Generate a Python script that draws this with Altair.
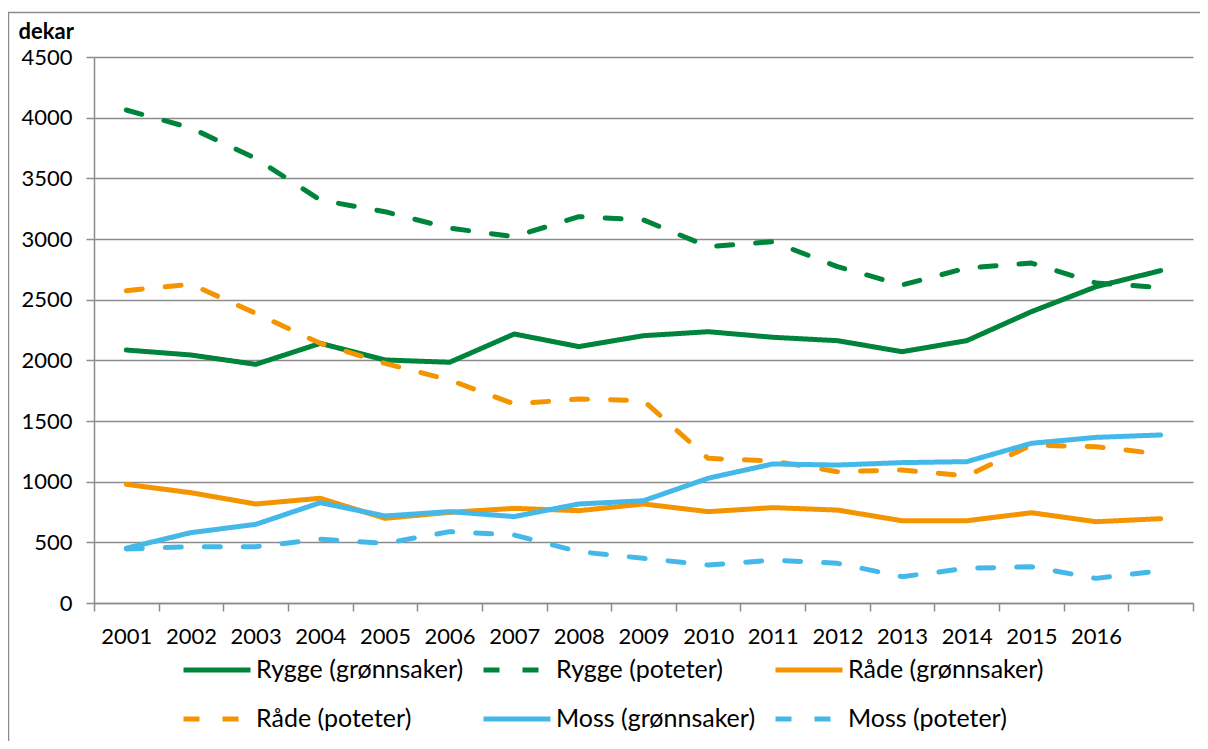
import altair as alt
import pandas as pd

years = [str(y) for y in range(2001, 2018)]
series = ["Rygge (grønnsaker)", "Rygge (poteter)", "Råde (grønnsaker)",
          "Råde (poteter)", "Moss (grønnsaker)", "Moss (poteter)"]

rygge_g = [2085, 2044, 1967, 2140, 2003, 1984, 2217, 2113, 2203, 2236, 2190, 2162, 2071, 2162, 2401, 2607, 2739]
rygge_p = [4063, 3915, 3665, 3321, 3225, 3090, 3019, 3184, 3157, 2937, 2978, 2772, 2621, 2761, 2802, 2637, 2600]
rade_g = [978, 909, 816, 863, 698, 747, 780, 761, 816, 753, 786, 766, 678, 678, 744, 670, 695]
rade_p = [2574, 2627, 2388, 2140, 1975, 1838, 1640, 1681, 1668, 1192, 1170, 1082, 1096, 1047, 1302, 1288, 1228]
moss_g = [451, 580, 648, 827, 717, 753, 712, 816, 843, 1028, 1146, 1137, 1157, 1165, 1316, 1365, 1385]
moss_p = [445, 464, 464, 525, 492, 588, 560, 423, 368, 313, 354, 327, 217, 286, 299, 203, 266]

color_of = {"Rygge (grønnsaker)": "#00833A", "Rygge (poteter)": "#00833A",
            "Råde (grønnsaker)": "#F39400", "Råde (poteter)": "#F39400",
            "Moss (grønnsaker)": "#45B8EA", "Moss (poteter)": "#45B8EA"}
dash_of = {"Rygge (grønnsaker)": [1, 0], "Rygge (poteter)": [16, 23],
           "Råde (grønnsaker)": [1, 0], "Råde (poteter)": [16, 23],
           "Moss (grønnsaker)": [1, 0], "Moss (poteter)": [16, 23]}

# legend fills column by column: order so rows read like the reference
legend_order = [series[0], series[3], series[1], series[4], series[2], series[5]]
colors = [color_of[s] for s in legend_order]
dashes = [dash_of[s] for s in legend_order]

rows = []
for name, vals in zip(series, [rygge_g, rygge_p, rade_g, rade_p, moss_g, moss_p]):
    for yr, v in zip(years, vals):
        rows.append({"year": yr, "value": v, "series": name})
df = pd.DataFrame(rows)

FONT = "Lato"
GRAY = "#8C8C8C"

legend = alt.Legend(title=None, orient="none", legendX=87, legendY=577, columns=3,
                    symbolType="stroke", symbolSize=4489, symbolStrokeWidth=5,
                    labelFont=FONT, labelFontSize=25, labelColor="#000000",
                    labelLimit=400, labelOffset=3, columnPadding=9, rowPadding=-18)

lines = alt.Chart(df).mark_line(strokeWidth=5, strokeCap="round", strokeJoin="round").encode(
    x=alt.X("year:O", sort=years, bandPosition=0.5,
            scale=alt.Scale(type="band", paddingInner=0, paddingOuter=0),
            axis=alt.Axis(title=None, tickBand="extent", labelAngle=0,
                          labelExpr="datum.label == '2017' ? '' : datum.label",
                          labelFont=FONT, labelFontSize=22, labelColor="#000000",
                          labelPadding=15, tickSize=8, tickColor=GRAY, tickWidth=1.5,
                          domainColor=GRAY, domainWidth=1.5, grid=False)),
    y=alt.Y("value:Q", scale=alt.Scale(domain=[0, 4500], nice=False),
            axis=alt.Axis(values=list(range(0, 4501, 500)), format="d", title="dekar",
                          titleAngle=0, titleAlign="left", titleBaseline="alphabetic",
                          titleX=-76, titleY=-19, titleFont=FONT, titleFontSize=22,
                          titleFontWeight="bold", titleColor="#000000",
                          labelFont=FONT, labelFontSize=22, labelColor="#000000",
                          labelPadding=14, tickSize=8, tickColor=GRAY, tickWidth=1.5,
                          domainColor=GRAY, domainWidth=1.5,
                          grid=True, gridColor=GRAY, gridWidth=1.5)),
    color=alt.Color("series:N", sort=legend_order,
                    scale=alt.Scale(domain=legend_order, range=colors), legend=legend),
    strokeDash=alt.StrokeDash("series:N", sort=legend_order,
                              scale=alt.Scale(domain=legend_order, range=dashes), legend=legend),
)

frame = alt.Chart(pd.DataFrame({"k": [0]})).mark_rect(
    fillOpacity=0, stroke=GRAY, strokeWidth=1.5
).encode(x=alt.value(-85.5), x2=alt.value(1300), y=alt.value(-44.5), y2=alt.value(900))

chart = alt.layer(frame, lines).properties(
    width=1099, height=546,
    padding={"left": 86, "top": 49, "right": 7, "bottom": 138},
    autosize=alt.AutoSizeParams(type="none"),
).configure_view(stroke=None)

chart.save("out.html", embed_options={"renderer": "svg", "actions": False})
